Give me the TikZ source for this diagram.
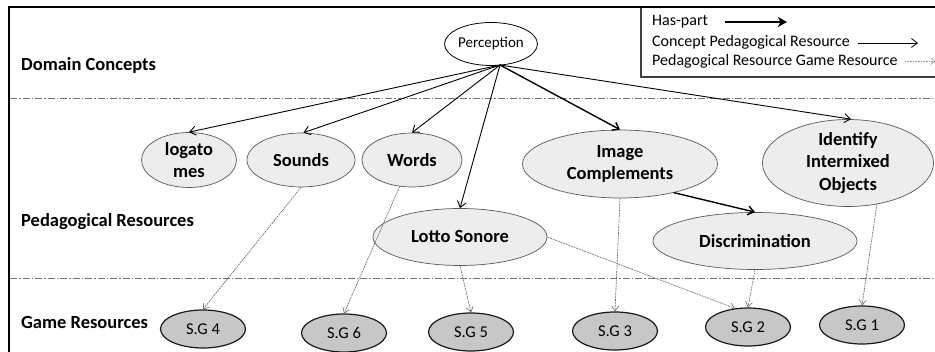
\documentclass[tikz,border=0pt]{standalone}
\usepackage{fontspec}
\setmainfont{Carlito}
\usetikzlibrary{arrows.meta,shapes.geometric}
\begin{document}
\begin{tikzpicture}[x=1pt,y=-1pt,
  layer/.style={font=\fontsize{18.5}{22}\selectfont\bfseries, anchor=west, inner sep=0pt},
  legtext/.style={font=\fontsize{16}{19}\selectfont, anchor=west, inner sep=0pt},
  concept/.style={ellipse, draw=black, fill=white, line width=0.8pt, inner sep=0pt,
    minimum width=88pt, minimum height=43pt, font=\fontsize{15}{18}\selectfont},
  ped/.style={ellipse, draw=black!65, fill=black!7, line width=0.7pt, inner sep=0pt,
    align=center, font=\fontsize{18.5}{22.5}\selectfont\bfseries},
  game/.style={ellipse, draw=black!90, fill=black!22, line width=1.2pt, inner sep=0pt,
    minimum width=85pt, minimum height=38pt, font=\fontsize{16.5}{19}\selectfont},
  haspart/.style={draw=black, line width=0.9pt, -{Straight Barb[length=6pt,width=9pt]}},
  strongpart/.style={haspart, line width=1.4pt},
  usedby/.style={draw=black!60, line width=0.6pt, dash pattern=on 2pt off 0.8pt,
    -{Straight Barb[length=5pt,width=7pt]}},
  separator/.style={draw=black!55, line width=0.8pt, dash pattern=on 7pt off 2pt on 1.5pt off 2pt}
]
\useasboundingbox (0,0) rectangle (935,352);

% outer frame (top and left edges)
\draw[line width=2pt] (935,7) -- (9,7) -- (9,352);

% layer separators
\draw[separator] (10,98) -- (935,98);
\draw[separator] (10,278) -- (935,278);

% layer labels
\node[layer] (lDomain) at (21,65) {Domain Concepts};
\node[layer] (lPed) at (21,222) {Pedagogical Resources};
\node[layer] (lGame) at (21,323) {Game Resources};

% legend
\draw[draw=black!75, line width=1.2pt] (935,77) -- (641,77) -- (641,8);
\node[legtext] (leg1) at (652,22) {Has-part};
\node[legtext] (leg2) at (652,42) {Concept Pedagogical Resource};
\node[legtext] (leg3) at (652,61) {Pedagogical Resource Game Resource};
\coordinate (leg1a) at (725,22);
\coordinate (leg1b) at (787,22);
\coordinate (leg2a) at (858,43);
\coordinate (leg2b) at (918,43);
\coordinate (leg3a) at (905,61);
\coordinate (leg3b) at (935,61);
\draw[line width=1.1pt, -{Stealth[length=9pt,width=10pt,inset=2.5pt]}] (leg1a) -- (leg1b);
\draw[line width=0.8pt, -{Straight Barb[length=6pt,width=9pt]}] (leg2a) -- (leg2b);
\draw[draw=black!40, line width=0.6pt, dash pattern=on 1pt off 0.6pt, -{Straight Barb[length=4pt,width=7pt]}] (leg3a) -- (leg3b);

% domain concept
\node[concept] (perc) at (491,44) {Perception};

% pedagogical resources
\node[ped, minimum width=95pt, minimum height=55pt] (logat) at (189,160) {logato\\mes};
\node[ped, minimum width=108pt, minimum height=54pt] (sounds) at (301,160) {Sounds};
\node[ped, minimum width=100pt, minimum height=54pt] (words) at (412,160) {Words};
\node[ped, minimum width=174pt, minimum height=57pt] (lotto) at (460,237) {Lotto Sonore};
\node[ped, minimum width=195pt, minimum height=68pt] (imgc) at (620,164) {Image\\Complements};
\node[ped, minimum width=171pt, minimum height=87pt] (ident) at (848,163) {Identify\\Intermixed\\Objects};
\node[ped, minimum width=204pt, minimum height=57pt] (discr) at (755,241) {Discrimination};

% game resources
\node[game] (sg4) at (203,329) {S.G 4};
\node[game] (sg6) at (344,333) {S.G 6};
\node[game] (sg5) at (471,332) {S.G 5};
\node[game] (sg3) at (615,331) {S.G 3};
\node[game] (sg2) at (748,327) {S.G 2};
\node[game] (sg1) at (862,325) {S.G 1};

% has-part relations
\coordinate (pbot) at (500,65);
\draw[haspart] (pbot) -- (logat.north);
\draw[haspart] (pbot) -- (sounds.85);
\draw[haspart] (pbot) -- (words.north);
\draw[haspart] (pbot) -- (lotto.north);
\draw[strongpart] (pbot) -- (imgc.north);
\draw[haspart] (pbot) -- (ident.86);
\draw[strongpart] (imgc.-28) -- (discr.north);

% game resource links
\draw[usedby] (sounds.south) -- (sg4.north);
\draw[usedby] (words.-115) -- (sg6.north);
\draw[usedby] (lotto.south) -- (sg5.north);
\draw[usedby] (lotto.east) -- (sg2.125);
\draw[usedby] (imgc.south) -- (sg3.north);
\draw[usedby] (discr.south) -- (sg2.north);
\draw[usedby] (ident.-55) -- (sg1.north);
\end{tikzpicture}
\end{document}
